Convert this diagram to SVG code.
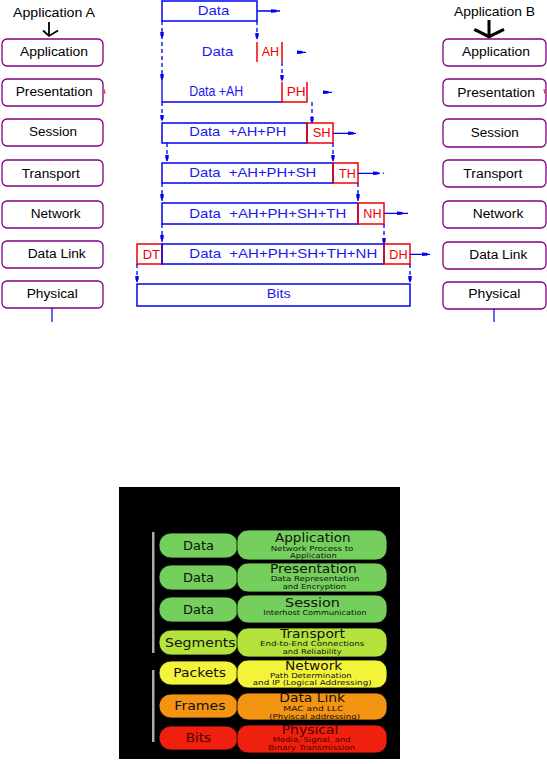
<svg xmlns="http://www.w3.org/2000/svg" width="547" height="764" viewBox="0 0 547 764">
<style>
.lbox{fill:#fff;stroke:#800080;stroke-width:1.3}
.lbl{font-family:"Liberation Sans",Arial,sans-serif;font-size:12px;fill:#000}
.bl{fill:none;stroke:#0000f0;stroke-width:1.5}
.rd{fill:none;stroke:#f00000;stroke-width:1.5}
.bt{font-family:"Liberation Sans",Arial,sans-serif;font-size:13px;fill:#1a1af0;white-space:pre}
.rt{font-family:"Liberation Sans",Arial,sans-serif;font-size:12px;fill:#f00000}
.ds{fill:none;stroke:#0000f0;stroke-width:1.3;stroke-dasharray:4 3}
.sl{fill:none;stroke:#0000f0;stroke-width:1.3}
.pl{stroke:#000;stroke-width:0.8}
.g{fill:#74cf5c}.yg{fill:#b4e33b}.y{fill:#f3f33a}.o{fill:#f39412}.r{fill:#f0200e}
.pt{font-family:"DejaVu Sans",Verdana,sans-serif;font-size:12px;fill:#111}
.tt{font-family:"DejaVu Sans",Verdana,sans-serif;font-size:11.5px;fill:#111}
.st{font-family:"DejaVu Sans",Verdana,sans-serif;font-size:7px;fill:#111}
</style>
<defs>
<path id="dh" d="M-1.8,-5 L1.8,-5 L1.5,-1.5 L0,1.5 L-1.5,-1.5 Z" fill="#0000f0"/>
<path id="rb" d="M0,-1.8 L5.5,-1.2 L5.5,1.2 L0,1.8 Z" fill="#0000f0"/>
</defs>
<rect width="547" height="764" fill="#fff"/>

<g id="stackA">
<text class="lbl" x="13" y="17" textLength="82" lengthAdjust="spacingAndGlyphs">Application A</text>
<path d="M49,22 V36 M43,30.5 L49,36 L58,30.5" fill="none" stroke="#000" stroke-width="1.8"/>
<g id="a-app"><rect class="lbox" x="2" y="39" width="101" height="27" rx="5"/><text class="lbl" x="20" y="55.5" textLength="68" lengthAdjust="spacingAndGlyphs">Application</text></g>
<g id="a-pres"><rect class="lbox" x="2" y="79" width="101" height="27" rx="5"/><text class="lbl" x="15.7" y="96" textLength="77" lengthAdjust="spacingAndGlyphs">Presentation</text><path d="M104,89 L105,94" stroke="#f03030" stroke-width="1.2"/></g>
<g id="a-sess"><rect class="lbox" x="2" y="119" width="101" height="27" rx="5"/><text class="lbl" x="29" y="136" textLength="48" lengthAdjust="spacingAndGlyphs">Session</text></g>
<g id="a-trans"><rect class="lbox" x="2" y="160" width="101" height="26" rx="5"/><text class="lbl" x="21.7" y="177.7" textLength="58" lengthAdjust="spacingAndGlyphs">Transport</text></g>
<g id="a-net"><rect class="lbox" x="2" y="201" width="101" height="27" rx="5"/><text class="lbl" x="30.7" y="217.7" textLength="50" lengthAdjust="spacingAndGlyphs">Network</text></g>
<g id="a-dl"><rect class="lbox" x="2" y="241" width="101" height="27" rx="5"/><text class="lbl" x="27.7" y="258.3" textLength="58" lengthAdjust="spacingAndGlyphs">Data Link</text></g>
<g id="a-phys"><rect class="lbox" x="2" y="281" width="101" height="27" rx="5"/><text class="lbl" x="26.7" y="297.7" textLength="51" lengthAdjust="spacingAndGlyphs">Physical</text></g>
<line x1="52" y1="308" x2="52" y2="322" stroke="#0000f0" stroke-width="1.2"/>
</g>

<g id="stackB">
<text class="lbl" x="454" y="16" textLength="81" lengthAdjust="spacingAndGlyphs">Application B</text>
<path d="M489,20 V36.7 M474.3,29.3 L489,36.7 L504,29.3" fill="none" stroke="#000" stroke-width="3"/>
<g id="b-app"><rect class="lbox" x="443" y="39" width="103" height="27" rx="5"/><text class="lbl" x="462" y="55.7" textLength="68" lengthAdjust="spacingAndGlyphs">Application</text></g>
<g id="b-pres"><rect class="lbox" x="443" y="79" width="103" height="27" rx="5"/><text class="lbl" x="457.3" y="96.7" textLength="77.7" lengthAdjust="spacingAndGlyphs">Presentation</text><path d="M544,89 L545,94" stroke="#f03030" stroke-width="1.2"/></g>
<g id="b-sess"><rect class="lbox" x="443" y="119" width="103" height="28" rx="5"/><text class="lbl" x="470.7" y="136.7" textLength="48" lengthAdjust="spacingAndGlyphs">Session</text></g>
<g id="b-trans"><rect class="lbox" x="443" y="160" width="103" height="27" rx="5"/><text class="lbl" x="463.3" y="178.3" textLength="59" lengthAdjust="spacingAndGlyphs">Transport</text></g>
<g id="b-net"><rect class="lbox" x="443" y="201" width="103" height="27" rx="5"/><text class="lbl" x="472.7" y="218.3" textLength="50.6" lengthAdjust="spacingAndGlyphs">Network</text></g>
<g id="b-dl"><rect class="lbox" x="443" y="242" width="103" height="27" rx="5"/><text class="lbl" x="469.3" y="259" textLength="58" lengthAdjust="spacingAndGlyphs">Data Link</text></g>
<g id="b-phys"><rect class="lbox" x="443" y="282" width="103" height="27" rx="5"/><text class="lbl" x="468.3" y="298.3" textLength="52" lengthAdjust="spacingAndGlyphs">Physical</text></g>
<line x1="494" y1="309" x2="494" y2="322" stroke="#0000f0" stroke-width="1.2"/>
</g>

<g id="pdu1"><rect class="bl" x="162" y="1" width="95" height="20"/><text class="bt" x="197.7" y="15" textLength="31.6" lengthAdjust="spacingAndGlyphs">Data</text></g>
<g id="pdu2"><text class="bt" x="201.7" y="56" textLength="31.6" lengthAdjust="spacingAndGlyphs">Data</text><path class="rd" d="M257,42 V62 M282,42 V62"/><text class="rt" x="261.7" y="56" textLength="17.3" lengthAdjust="spacingAndGlyphs">AH</text></g>
<g id="pdu3"><path class="sl" d="M162,80 V102 H282"/><text class="bt" x="189.3" y="96" textLength="54" lengthAdjust="spacingAndGlyphs" style="font-size:14px">Data +AH</text><path class="rd" d="M282,82 V102 H307 V82"/><text class="rt" x="286.7" y="96" textLength="19" lengthAdjust="spacingAndGlyphs">PH</text></g>
<g id="pdu4"><rect class="bl" x="162" y="123" width="145" height="20"/><text class="bt" x="189.3" y="136" textLength="97" lengthAdjust="spacingAndGlyphs">Data  +AH+PH</text><rect class="rd" x="307" y="123" width="26" height="20"/><text class="rt" x="312.7" y="137" textLength="18" lengthAdjust="spacingAndGlyphs">SH</text></g>
<g id="pdu5"><rect class="bl" x="162" y="163" width="171" height="20"/><text class="bt" x="189.3" y="177" textLength="127" lengthAdjust="spacingAndGlyphs">Data  +AH+PH+SH</text><rect class="rd" x="333" y="163" width="25" height="20"/><text class="rt" x="339" y="177.5" textLength="16.7" lengthAdjust="spacingAndGlyphs">TH</text></g>
<g id="pdu6"><rect class="bl" x="162" y="203" width="196" height="21"/><text class="bt" x="189.3" y="217.5" textLength="157" lengthAdjust="spacingAndGlyphs">Data  +AH+PH+SH+TH</text><rect class="rd" x="358" y="203" width="26" height="21"/><text class="rt" x="363.3" y="218" textLength="18.3" lengthAdjust="spacingAndGlyphs">NH</text></g>
<g id="pdu7"><rect class="rd" x="137" y="244" width="25" height="20"/><text class="rt" x="142.7" y="258.5" textLength="17.3" lengthAdjust="spacingAndGlyphs">DT</text><rect class="bl" x="162" y="244" width="222" height="20"/><text class="bt" x="189.3" y="258" textLength="188" lengthAdjust="spacingAndGlyphs">Data  +AH+PH+SH+TH+NH</text><rect class="rd" x="384" y="244" width="26" height="20"/><text class="rt" x="389.3" y="258.5" textLength="18.3" lengthAdjust="spacingAndGlyphs">DH</text></g>
<g id="pdu8"><rect class="bl" x="137" y="284" width="273" height="22"/><text class="bt" x="266.7" y="298" textLength="24" lengthAdjust="spacingAndGlyphs">Bits</text></g>

<g id="connectors">
<path class="ds" d="M162,21 V80 M257,21 V42 M282,62 V82 M162,102 V123 M312,102 V123 M167,143 V163 M333,143 V163 M162,183 V203 M358,183 V203 M162,224 V244 M384,224 V244 M137,264 V284 M410,264 V284"/>
<use href="#dh" x="162" y="37"/><use href="#dh" x="162" y="79"/><use href="#dh" x="257" y="38"/><use href="#dh" x="282" y="80"/>
<use href="#dh" x="162" y="120"/><use href="#dh" x="312" y="122"/><use href="#dh" x="167" y="160"/><use href="#dh" x="333" y="160"/>
<use href="#dh" x="162" y="199"/><use href="#dh" x="358" y="199"/><use href="#dh" x="162" y="240"/><use href="#dh" x="384" y="243"/>
<use href="#dh" x="137" y="281"/><use href="#dh" x="410" y="281"/>
<path class="sl" d="M257,11 H280 M301,52.3 H306 M327,92.3 H332 M333,133.3 H356 M358,173.3 H380 M384,213.3 H408 M410,254.3 H430"/>
<circle cx="383.5" cy="173.3" r="0.7" fill="#0000f0"/>
<use href="#rb" x="271" y="11"/><use href="#rb" x="297" y="52.3"/><use href="#rb" x="323" y="92.3"/><use href="#rb" x="348" y="133.3"/>
<use href="#rb" x="373" y="173.3"/><use href="#rb" x="397" y="213.3"/><use href="#rb" x="422" y="254.3"/>
</g>

<g id="osi-chart">
<rect x="119" y="487" width="281" height="272" fill="#000"/>
<rect x="152" y="532" width="2.5" height="121" fill="#aaa"/>
<rect x="152" y="670" width="2.5" height="72" fill="#aaa"/>
<g id="l-data1"><rect class="g pl" x="159" y="533" width="79" height="25" rx="12"/><text class="pt" x="183" y="550" textLength="31" lengthAdjust="spacingAndGlyphs">Data</text></g>
<g id="l-data2"><rect class="g pl" x="159" y="565" width="79" height="25" rx="12"/><text class="pt" x="183" y="582" textLength="31" lengthAdjust="spacingAndGlyphs">Data</text></g>
<g id="l-data3"><rect class="g pl" x="159" y="597" width="79" height="25" rx="12"/><text class="pt" x="183" y="614.3" textLength="31" lengthAdjust="spacingAndGlyphs">Data</text></g>
<g id="l-seg"><rect class="yg pl" x="159" y="630" width="79" height="25" rx="12"/><text class="pt" x="165" y="646.7" textLength="70.7" lengthAdjust="spacingAndGlyphs">Segments</text></g>
<g id="l-pkt"><rect class="y pl" x="159" y="661" width="79" height="24" rx="12"/><text class="pt" x="173.3" y="676.7" textLength="52.7" lengthAdjust="spacingAndGlyphs">Packets</text></g>
<g id="l-frm"><rect class="o pl" x="159" y="694" width="79" height="24" rx="12"/><text class="pt" x="174.3" y="710" textLength="51.3" lengthAdjust="spacingAndGlyphs">Frames</text></g>
<g id="l-bits"><rect class="r pl" x="159" y="726" width="79" height="24" rx="12"/><text class="pt" x="185.7" y="741.7" textLength="25.3" lengthAdjust="spacingAndGlyphs" style="fill:#4a0000">Bits</text></g>

<g id="r-app"><rect class="g pl" x="237" y="530" width="150" height="30" rx="11"/>
<text class="tt" x="275" y="541.7" textLength="75.7" lengthAdjust="spacingAndGlyphs">Application</text>
<text class="st" x="270.7" y="551" textLength="82.7" lengthAdjust="spacingAndGlyphs">Network Process to</text>
<text class="st" x="290" y="558" textLength="46.7" lengthAdjust="spacingAndGlyphs">Application</text></g>
<g id="r-pres"><rect class="g pl" x="237" y="563" width="150" height="29" rx="11"/>
<text class="tt" x="270" y="572.7" textLength="86.7" lengthAdjust="spacingAndGlyphs">Presentation</text>
<text class="st" x="270.7" y="581" textLength="88.7" lengthAdjust="spacingAndGlyphs">Data Representation</text>
<text class="st" x="282.7" y="588.5" textLength="63.3" lengthAdjust="spacingAndGlyphs">and Encryption</text></g>
<g id="r-sess"><rect class="g pl" x="237" y="595" width="150" height="28" rx="11"/>
<text class="tt" x="285" y="606.7" textLength="55" lengthAdjust="spacingAndGlyphs">Session</text>
<text class="st" x="263.3" y="615" textLength="103.3" lengthAdjust="spacingAndGlyphs">Interhost Communication</text></g>
<g id="r-trans"><rect class="yg pl" x="237" y="628" width="150" height="29" rx="11"/>
<text class="tt" x="280" y="638.3" textLength="65" lengthAdjust="spacingAndGlyphs">Transport</text>
<text class="st" x="260" y="646.3" textLength="104.3" lengthAdjust="spacingAndGlyphs">End-to-End Connections</text>
<text class="st" x="282.7" y="653.7" textLength="59" lengthAdjust="spacingAndGlyphs">and Reliability</text></g>
<g id="r-net"><rect class="y pl" x="237" y="660" width="150" height="28" rx="11"/>
<text class="tt" x="285" y="670" textLength="57.3" lengthAdjust="spacingAndGlyphs">Network</text>
<text class="st" x="270" y="677.5" textLength="81.7" lengthAdjust="spacingAndGlyphs">Path Determination</text>
<text class="st" x="252.7" y="685.2" textLength="119" lengthAdjust="spacingAndGlyphs">and IP (Logical Addressing)</text></g>
<g id="r-dl"><rect class="o pl" x="237" y="693" width="150" height="27" rx="11"/>
<text class="tt" x="279.3" y="702.3" textLength="65.7" lengthAdjust="spacingAndGlyphs">Data Link</text>
<text class="st" x="283.3" y="711" textLength="60" lengthAdjust="spacingAndGlyphs">MAC and LLC</text>
<text class="st" x="269.3" y="719" textLength="90.7" lengthAdjust="spacingAndGlyphs">(Phyiscal addressing)</text></g>
<g id="r-phys"><rect class="r pl" x="237" y="725" width="150" height="28" rx="11"/>
<text class="tt" x="281.7" y="734.3" textLength="56.7" lengthAdjust="spacingAndGlyphs" style="fill:#4a0000">Physical</text>
<text class="st" x="272.7" y="742.3" textLength="78" lengthAdjust="spacingAndGlyphs" style="fill:#4a0000">Media, Signal, and</text>
<text class="st" x="268.3" y="749.5" textLength="86.7" lengthAdjust="spacingAndGlyphs" style="fill:#4a0000">Binary Transmission</text></g>
</g>
</svg>
